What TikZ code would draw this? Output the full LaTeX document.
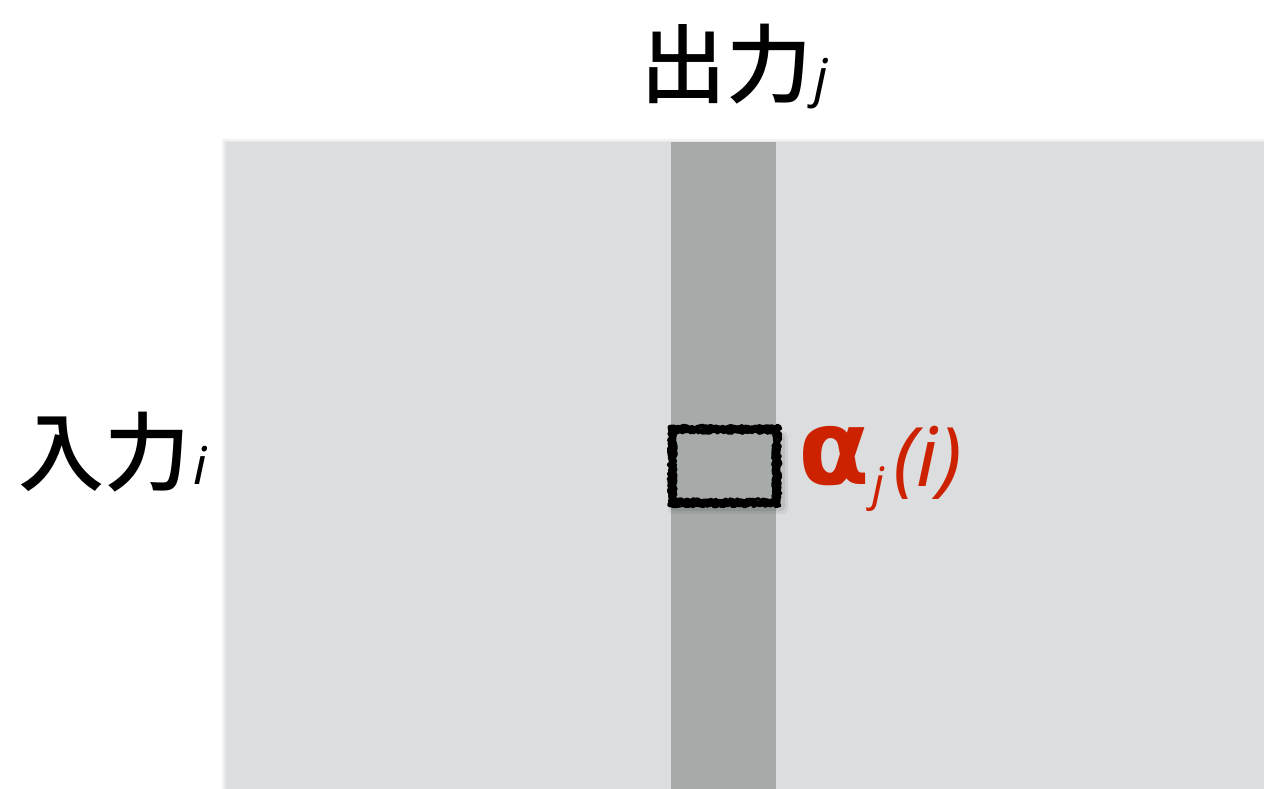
\documentclass[tikz,border=0pt]{standalone}
\usepackage{fontspec}
\setmainfont{Noto Sans}
\newfontfamily\cjk[UprightFont={* Medium}]{Noto Sans CJK JP}
\newfontfamily\dejab{DejaVu Sans}
\usetikzlibrary{decorations.pathmorphing}
\definecolor{lightbg}{HTML}{DCDDDF}
\definecolor{darkcol}{HTML}{A6AAA9}
\definecolor{alphared}{HTML}{CC2200}
\tikzset{
  bigcjk/.style={inner sep=0pt, anchor=base west, font=\cjk\fontsize{86}{100}\selectfont},
  subsc/.style={inner sep=0pt, anchor=base west, font=\itshape\fontsize{52}{60}\selectfont},
  roughline/.style={draw=black, line width=3pt, line join=round, line cap=round, decorate, decoration={random steps, segment length=2pt, amplitude=1.2pt}}
}
\begin{document}
\begin{tikzpicture}[x=1pt,y=-1pt]
\useasboundingbox (0,0) rectangle (1264,789);
\fill[white] (0,0) rectangle (1264,789);
% soft shadow of matrix
\fill[black!5] (222,139) rectangle (1264,789);
\fill[black!9] (224,141) rectangle (1264,789);
\node[fill=lightbg, inner sep=0pt, minimum width=1038pt, minimum height=647pt, anchor=north west] (mat) at (226,142) {};
\node[fill=darkcol, inner sep=0pt, minimum width=105pt, minimum height=647pt, anchor=north west] (col) at (671,142) {};
% soft shadow of the box
\fill[black, opacity=0.06, rounded corners=6pt] (668,431) rectangle (788,514);
\fill[black, opacity=0.08, rounded corners=4pt] (670,433) rectangle (785,511);
% rough box
\node[inner sep=0pt, minimum width=104pt, minimum height=73pt] (cell) at (724.5,466) {};
\fill[darkcol] (cell.north west) rectangle (cell.south east);
\pgfmathsetseed{11}
\foreach \d in {-3,-1.5,0,1.5,3}{
  \draw[roughline] ([shift={(-\d,-\d)}]cell.north west) rectangle ([shift={(\d,\d)}]cell.south east);
}
% labels
\node[bigcjk] (out) at (640,97) {出力};
\node[subsc] (outj) at (814,97) {j};
\node[bigcjk] (in) at (18,484) {入力};
\node[subsc] (ini) at (193,484) {i};
\node[inner sep=0pt, anchor=base west, text=alphared, font=\dejab\bfseries\fontsize{104}{110}\selectfont] (alpha) at (798,484) {α};
\node[inner sep=0pt, anchor=base west, text=alphared, font=\itshape\fontsize{46}{50}\selectfont] (aj) at (872,500) {j};
\node[inner sep=0pt, anchor=base west, text=alphared, font=\itshape\fontsize{82}{90}\selectfont] (ai) at (893,486) {(i)};
\end{tikzpicture}
\end{document}
